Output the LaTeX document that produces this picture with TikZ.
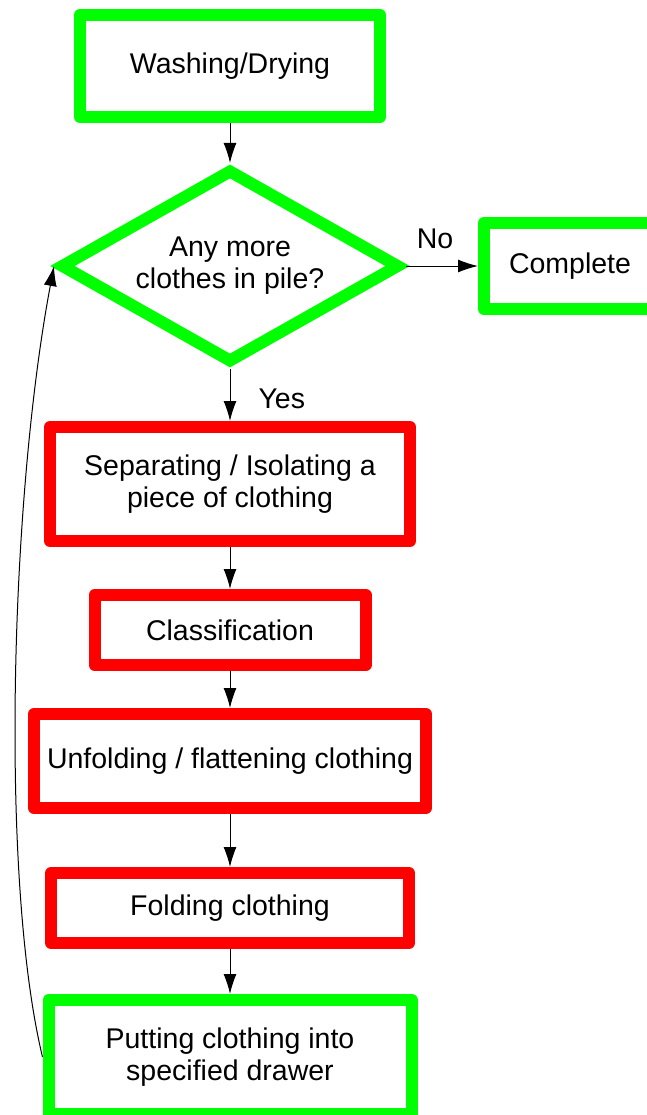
\documentclass[tikz,border=0pt]{standalone}
\usepackage{fontspec}
\setmainfont{Liberation Sans}
\usepackage{tikz}
\usetikzlibrary{positioning, shapes.geometric, arrows.meta}
\definecolor{flowgreen}{HTML}{00FF00}
\definecolor{flowred}{HTML}{FF0000}

\begin{document}
\begin{tikzpicture}[
    x=1pt, y=-1pt,
    node distance=40pt,
    every node/.style={align=center, font=\fontsize{28.5}{32}\selectfont},
    greenbox/.style={rectangle, draw=flowgreen, line width=12pt, line join=round},
    redbox/.style={rectangle, draw=flowred, line width=12pt, line join=round},
    decision/.style={diamond, draw=flowgreen, line width=12pt, aspect=1.75, minimum width=340pt, minimum height=194pt, inner sep=2pt},
    lbl/.style={inner sep=0pt},
    arr/.style={-{Latex[length=20pt, width=13pt]}, line width=1pt}
]
\path[use as bounding box] (0,0) rectangle (647,1115);
\clip (0,0) rectangle (647,1115);

\node (wash) [greenbox, minimum width=300pt, minimum height=102pt] at (230,66) {Washing/Drying};
\node (ask) [decision, below=40pt of wash] {Any more\\clothes in pile?};
\node (done) [greenbox, minimum width=172pt, minimum height=86pt, right=72pt of ask] {Complete};
\node (sep) [redbox, minimum width=360pt, minimum height=114pt, below=52pt of ask] {Separating / Isolating a\\piece of clothing};
\node (cls) [redbox, minimum width=271pt, minimum height=70pt, below=42pt of sep] {Classification};
\node (unf) [redbox, minimum width=392pt, minimum height=94pt, below=37pt of cls] {Unfolding / flattening clothing};
\node (fold) [redbox, minimum width=358pt, minimum height=70pt, below=53pt of unf] {Folding clothing};
\node (put) [greenbox, minimum width=363pt, minimum height=114pt, below=45pt of fold] {Putting clothing into\\specified drawer};

\draw[arr] (wash) -- (ask);
\draw[arr] (ask) -- node[lbl, above=17pt, xshift=-7pt] (nolbl) {No} (done);
\draw[arr] (ask) -- node[lbl, right=28pt, yshift=-4pt] (yeslbl) {Yes} (sep);
\draw[arr] (sep) -- (cls);
\draw[arr] (cls) -- (unf);
\draw[arr] (unf) -- (fold);
\draw[arr] (fold) -- (put);
\draw[arr] (put.west) .. controls (0,880) and (10,500) .. (ask.west);

\end{tikzpicture}
\end{document}
